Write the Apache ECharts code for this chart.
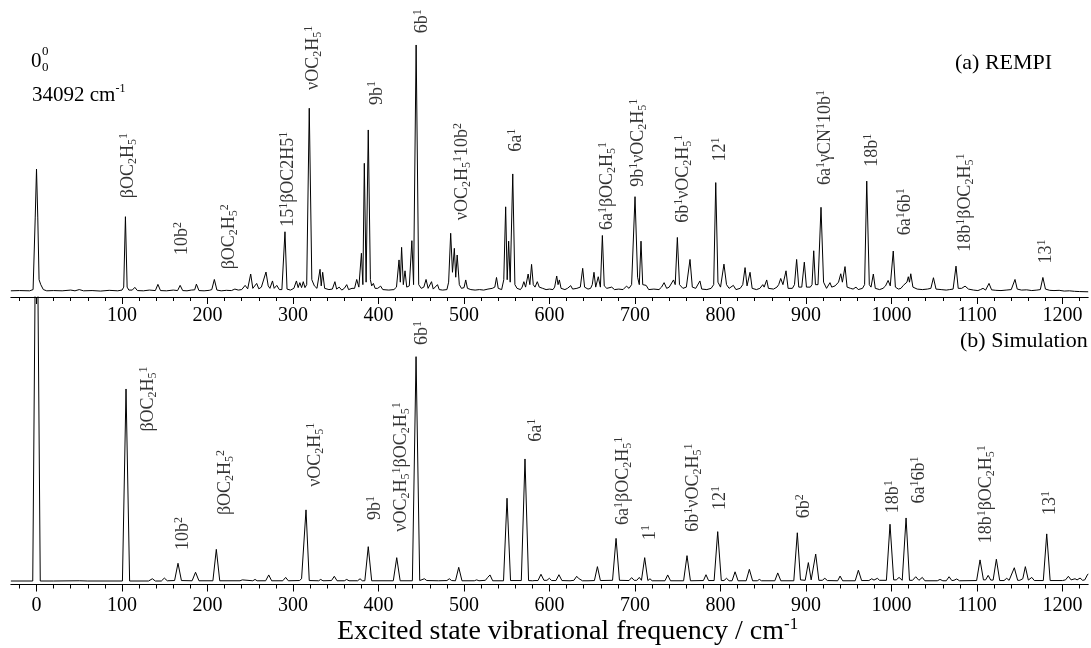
<!DOCTYPE html>
<html>
<head>
<meta charset="utf-8">
<script src="https://cdn.jsdelivr.net/npm/echarts@6/dist/echarts.min.js"></script>
<style>
html,body{margin:0;padding:0;background:#fff;}
#chart{width:1091px;height:648px;}
</style>
</head>
<body>
<div id="chart"></div>
<script>
// ---------- DATA ----------
// x: excited state vibrational frequency (cm-1), y: relative intensity (6b peak = 100)
const rempiSpectrum = [
[-30,0.5],[-20,0.6],[-8,0.5],[-4,1],[-1.5,30],[0,49.8],[1.5,30],[3,5],[5,3],[8,1],[12,0.5],[20,0.6],[30,0.5],[40,0.8],[45,0.5],[50,1.0],[55,0.5],[65,0.6],[75,0.4],[85,0.7],[95,0.5],
[100,0.8],[102,2],[104,30.5],[106,2],[108,0.8],[112,0.8],[115,1.9],[118,0.6],[125,0.5],[132,0.8],[139,0.6],[142,3.1],[145,0.6],[152,0.5],[160,0.8],[165,0.6],[168,2.7],[171,0.6],[176,0.5],
[181,0.8],[183,1.5],[185,0.9],[187,3.2],[190,0.6],[196,0.5],[202,0.7],[205,1],[208,5.1],[211,0.8],[216,0.5],[222,0.7],[228,0.6],[232,1.2],[236,0.8],[240,1],[244,2.7],[247,1.3],[250.5,7.3],
[253,1.5],[257.5,3.5],[260,1.3],[263,2],[265,1.6],[268.4,8.1],[271,2.5],[273,1.5],[276,4.5],[278,1.5],[281,2.7],[284,1],[287,1],[290.6,24.4],[293,1.2],[297,0.8],[301,1.5],[304,4.5],[306,1.8],
[308,3.8],[310,1.8],[312,4.2],[314,1.8],[316,3],[319,74.4],[322,5],[325,2.5],[328,1.5],[331.6,9.2],[333,2.5],[334.7,8],[337,1.5],[342,1],[346,1.2],[349,4.2],[351,1.2],[354,2],[357,0.8],
[360,1.5],[362.8,3],[365,1],[369,1.5],[372,1.5],[374.5,5.1],[377,2],[380,15.7],[381.7,3],[383.4,52.1],[385.5,4],[388,65.6],[390.5,5],[392,2.5],[394,3.5],[396,1.5],[399,1.5],[402.5,2.4],
[405,1],[412,0.8],[418,1],[421,2],[424,13],[425.5,4],[427,18.1],[429,3],[431,8.6],[433,2],[436,2.5],[439,20.8],[441,3],[444,100],[447,3],[450,1.5],[453,2],[455.6,5.1],[458,1.5],[460,2],
[462,4.2],[464,1.2],[466,1.5],[469,3],[471,1],[475,0.8],[480,1],[482,4],[484.4,23.8],[486.5,8],[488.7,17.7],[490.3,6],[492,15],[494.5,3],[497,1.5],[500,1.8],[502,4.9],[504,1.5],[508,1],
[513,0.8],[518,1],[523,0.8],[528,1.2],[533,1.5],[536,2],[538,5.9],[540,1.5],[544,1],[546.5,5],[548.7,34.5],[550.5,5],[552.2,20.6],[554,4],[557,47.8],[559.5,3],[562,1.5],[566,1],[568,2],
[570,4.2],[572,2],[575,7.3],[577,3],[579,11.2],[581,3],[583,2],[585.7,4.2],[588,2],[592,1.5],[596,1],[600,1.2],[604,1],[606,2],[608.4,6.5],[610,3],[611.5,4.9],[613.5,1.5],[618,1],[621,1.5],
[624.8,2.6],[627,1.2],[632,1.5],[636,2],[638.8,9.6],[641,2],[645,1.2],[648,1.5],[650,3],[652,8],[654,2],[657,6.2],[659.5,2],[661.8,22.9],[664,2.5],[667,1.5],[672.7,2],[676,1],[681,1.2],
[686,1],[690,2.4],[693,1.5],[696,3],[700,38.6],[703,6],[705,3],[707,20.6],[709,3],[713,2.7],[716,1],[722,1.2],[728,1],[731,2],[734,3.8],[737,1.5],[740,2],[742,2.5],[745,4.9],[747,3],
[749.5,22.1],[752,3],[756,1.5],[760,2],[764.3,13.2],[767,2],[771,1.5],[775.9,4.5],[778,1.2],[784,1],[789,1.5],[792,3],[794.4,44.3],[797,4],[800,2],[804,11.3],[807,3],[810,1.5],[815,2.7],
[818,1],[823,1.5],[826,3],[828.7,9.9],[831,2.5],[834.5,8],[837,1.5],[842,1],[846,1.5],[849.4,3],[851,2],[854,4.9],[856,1.5],[862,1.2],[866,2],[868,3],[870.4,5.5],[873,3],[876.6,8.6],
[879,1.5],[884,1.5],[886.5,3],[889,13.2],[891.5,2],[895,2],[898,12.1],[900.5,2],[905,2],[907,3],[909,16.7],[911,3],[914,3],[917.5,34.3],[920.5,4],[924,1.5],[928,3.8],[930,2],[934,2.5],
[936,3],[938,4],[940.6,7.4],[942.5,4],[945.6,10.3],[948,2],[952,1.5],[955,1.2],[958.5,2],[961,1],[966,1.5],[968.5,3],[971,44.9],[974,3],[976,2],[978.7,7.3],[981,1.5],[986,1],[990,1.5],
[993,2.5],[996,4.7],[998.5,2.5],[1002,16.6],[1004.5,2],[1008,1.2],[1011,1.5],[1013.8,2.7],[1016,2],[1018,4],[1019.6,6.2],[1021,4],[1022.5,7.4],[1025,2],[1030,1.2],[1036,1],[1042,1.2],
[1046,1.5],[1049,5.8],[1052,1.2],[1058,1],[1064,0.8],[1068,1],[1072,1.2],[1075.4,10.5],[1078,1.5],[1082,1.5],[1086,2.4],[1090,1.2],[1096,0.8],[1101,0.6],[1104,1],[1107,1.5],[1110,0.8],
[1114,3.5],[1117,0.9],[1122,0.7],[1128,0.6],[1134,0.8],[1140,1],[1144.4,5.1],[1147,1.2],[1152,0.8],[1158,0.9],[1164,0.6],[1170,0.8],[1174,1],[1177,5.9],[1180,1.2],[1185,0.7],[1190,0.6],
[1196,0.7],[1202,0.4],[1208,0.5],[1214,0.3],[1220,0.2],[1230,0.1]
];

const simSpectrum = [
[-30,0],[-4.4,0],[0,210],[4.4,0],[20,0],[50,0.1],[60,0],[100.5,0],[104.7,85.6],[108.9,0],[131,0],[135.5,1],[139,0],[146,0],[149.5,1.3],[153,0.1],[161.5,0.2],[165.5,7.9],[169.5,0.2],
[182,0.1],[186,3.9],[190,0.1],[206.3,0.1],[210.3,14.1],[214.3,0.1],[238,0.1],[240.7,0.5],[243,0.1],[253,0.1],[255.6,0.7],[258,0.1],[268,0.1],[271.6,2.7],[275,0.1],[288,0.1],[291.4,1.6],
[294.5,0.1],[307.5,0.2],[310,1],[311.5,0.5],[315.2,31.7],[319,0.2],[330,0.1],[332.4,0.7],[335,0.1],[345,0.2],[348.3,2.1],[351.5,0.1],[360,0.1],[362.8,0.7],[365.5,0.1],[375.5,0.1],
[378.4,1],[381,0.1],[384,0.1],[388,15.3],[392,0.1],[417.3,0.1],[421.3,10.4],[425.3,0.1],[439.6,0.1],[443.9,100],[448.2,0.2],[450.5,0.3],[453.6,1],[456.5,0.2],[470,0.1],[480,0.2],
[482.8,1],[485.5,0.2],[490,0.1],[493.8,6.1],[497.6,0.1],[512,0.1],[514.8,0.5],[517.5,0.1],[525,0.3],[527.7,1.6],[528.7,1.2],[530.4,2.7],[533.5,0.1],[546.2,0.1],[550.3,36.9],[554.4,0.2],
[567,0.2],[571.3,54.4],[575.5,0.2],[580,0.1],[583,0.2],[586.5,0.2],[590,3],[593.5,0.3],[597,0.3],[599.8,1.2],[602.5,0.2],[607.5,0.2],[611,2.8],[614.5,0.2],[624,0.1],[628.5,0.3],
[631.8,2.1],[633.8,1.2],[635.7,1.2],[638.5,0.1],[645,0.1],[652.5,0.2],[656,6.4],[659.5,0.2],[673.7,0.3],[677.8,19],[681.8,0.3],[693,0.2],[696,1.5],[699,0.3],[702,0.3],[705,1.6],
[707.5,0.3],[711.3,10.4],[715,0.2],[717.5,1],[720,0.1],[735,0.1],[738.2,2.7],[741.5,0.1],[756.8,0.1],[760.8,11.3],[764.8,0.1],[780,0.2],[783,2.8],[786,0.2],[792.5,0.2],[796.7,22],
[800.9,0.2],[804,0.2],[807,1.2],[810,0.1],[813.5,0.1],[817,4.1],[820.5,0.1],[830,0.1],[833.7,5.2],[837.5,0.1],[843,0.1],[845.4,0.7],[848,0.1],[863.5,0.1],[866.9,3.6],[870.5,0.1],
[885.7,0.1],[889.8,21.5],[893.5,0.5],[895,0.6],[899,0.3],[902.7,8.2],[906,0.5],[907.5,0.5],[911.3,12],[915,0.3],[919,0.3],[922,1.2],[925,0.2],[937,0.1],[939.8,2.2],[942.8,0.1],
[957.5,0.1],[961.2,4.8],[965,0.2],[973.5,0.2],[976.8,1],[979.5,0.4],[983.4,1.2],[986,0.3],[994,0.3],[998.2,25.3],[1002.5,0.5],[1005.5,0.5],[1008.8,1.6],[1012.5,0.3],[1017,28.1],
[1021,0.3],[1024.5,0.3],[1028.3,1.9],[1032,0.3],[1033.5,0.3],[1036,1.6],[1039,0.1],[1053.5,0.1],[1056.7,0.7],[1060,0.1],[1064,0.1],[1067.3,1.9],[1070.5,0.2],[1073,0.3],[1076.2,0.9],
[1079.5,0.1],[1099.5,0.2],[1103.5,9.4],[1107.5,0.5],[1110,0.5],[1113,2.5],[1116,0.4],[1118.8,0.4],[1122.6,9.7],[1126.5,0.2],[1131.5,0.2],[1134.7,1.2],[1137.5,0.3],[1139.8,0.3],
[1143.6,5.9],[1147.5,0.3],[1150,0.3],[1152.3,1],[1153.5,1],[1156.5,6.4],[1160,0.4],[1161.5,0.5],[1164,1.6],[1167,0.2],[1177.5,0.2],[1181.5,21],[1185.5,0.2],[1200,0.2],[1203.5,0.5],
[1206.8,2.1],[1210,0.5],[1212,0.5],[1214.6,1],[1217,0.5],[1220.5,1.3],[1223.5,0.3],[1226,0.5],[1229,2.7],[1230,3.2]
];

// peak assignments: [text, x, y-anchor] (^ = superscript char, _ = subscript char)
const rempiLabels = [
['βOC_2H_5^1',107.5,38],['10b^2',170,15],['βOC_2H_5^2',226,9.2],['15^1βOC2H5^1',294.5,26.4],
['νOC_2H_5^1',324,81.8],['9b^1',398,75.7],['6b^1',451.7,104.7],['νOC_2H_5^110b^2',498,29.1],
['6a^1',561,56.8],['6a^1βOC_2H_5^1',667.6,25.1],['9b^1νOC_2H_5^1',703.9,42.6],['6b^1νOC_2H_5^1',756.5,28],
['12^1',800,52.8],['6a^1γCN^110b^1',922,43.3],['18b^1',977,50.7],['6a^16b^1',1015.8,23],
['18b^1βOC_2H_5^1',1086,16.3],['13^1',1181.5,11.6]
];
const simLabels = [
['βOC_2H_5^1',130.8,66.6],['10b^2',171.7,13.8],['βOC_2H_5^2',220.5,29.4],['νOC_2H_5^1',325.7,42],
['9b^1',396.7,27.2],['νOC_2H_5^1βOC_2H_5^1',427,22],['6b^1',451.7,105.2],['6a^1',584.2,62.1],
['6a^1βOC_2H_5^1',686.3,25],['1^1',718.3,18.3],['6b^1νOC_2H_5^1',768.2,22],['12^1',799.4,31.7],
['6b^2',897.7,28],['18b^1',1002,30.2],['6a^16b^1',1032.5,34.6],['18b^1βOC_2H_5^1',1111,16.8],['13^1',1186,29.4]
];

const topTickLabels = [100,200,300,400,500,600,700,800,900,1000,1100,1200];
const bottomTickLabels = [0,100,200,300,400,500,600,700,800,900,1000,1100,1200];
const majorTicks = [0,100,200,300,400,500,600,700,800,900,1000,1100,1200];
const minorTicks = [-20,0,20,40,60,80,100,120,140,160,180,200,220,240,260,280,300,320,340,360,380,400,420,440,460,480,500,520,540,560,580,600,620,640,660,680,700,720,740,760,780,800,820,840,860,880,900,920,940,960,980,1000,1020,1040,1060,1080,1100,1120,1140,1160,1180,1200,1220];

// ---------- CHART ----------
const FONT = 'Liberation Serif';
function toRich(s){
  let out='', buf='';
  for(let i=0;i<s.length;i++){
    const c=s[i];
    if(c==='^'||c==='_'){
      if(buf){out+='{n|'+buf+'}';buf='';}
      out+='{'+(c==='^'?'sp':'sb')+'|'+s[i+1]+'}'; i++;
    } else buf+=c;
  }
  if(buf) out+='{n|'+buf+'}';
  return out;
}
const labelRich = {
  n:{fontFamily:FONT,fontSize:18,lineHeight:21,color:'#000'},
  sp:{fontFamily:FONT,fontSize:12,lineHeight:12,verticalAlign:'top',color:'#000'},
  sb:{fontFamily:FONT,fontSize:12,lineHeight:12,verticalAlign:'bottom',color:'#000'}
};
function labelSeries(list, xi, yi){
  return {
    type:'scatter', xAxisIndex:xi, yAxisIndex:yi, clip:false, silent:true,
    symbol:'circle', symbolSize:1, itemStyle:{color:'rgba(0,0,0,0)'},
    data:list.map(l=>({value:[l[1],l[2]], name:l[0]})),
    label:{show:true, position:'inside', distance:0, rotate:90, align:'left', verticalAlign:'middle',
      formatter:p=>toRich(p.name), rich:labelRich},
    labelLayout:{hideOverlap:false},
    emphasis:{disabled:true},
    z:5
  };
}
const XMIN=-30, XMAX=1230;
const gridLeft=10.85, gridRight=2.8;
const numFmt = v => String(v);
const axisCommon = {type:'value', min:XMIN, max:XMAX, splitLine:{show:false}};
const chart = echarts.init(document.getElementById('chart'), null, {renderer:'canvas'});
const option = {
  animation:false,
  backgroundColor:'#fff',
  textStyle:{fontFamily:FONT},
  grid:[
    {left:gridLeft,right:gridRight,top:0,height:297},
    {left:gridLeft,right:gridRight,top:297,height:287.5},
    {left:gridLeft,right:gridRight,top:0,height:297},
    {left:gridLeft,right:gridRight,top:297,height:287.5}
  ],
  xAxis:[
    Object.assign({},axisCommon,{gridIndex:0,
      axisLine:{show:true,onZero:false,lineStyle:{color:'#000',width:1}},
      axisTick:{show:true,inside:false,length:7,customValues:majorTicks,lineStyle:{color:'#000'}},
      axisLabel:{show:true,customValues:topTickLabels,formatter:numFmt,margin:9,color:'#000',fontFamily:FONT,fontSize:20}}),
    Object.assign({},axisCommon,{gridIndex:1,
      axisLine:{show:true,onZero:false,lineStyle:{color:'#000',width:1}},
      axisTick:{show:true,inside:false,length:7,customValues:majorTicks,lineStyle:{color:'#000'}},
      axisLabel:{show:true,customValues:bottomTickLabels,formatter:numFmt,margin:11,color:'#000',fontFamily:FONT,fontSize:20}}),
    Object.assign({},axisCommon,{gridIndex:2,
      axisLine:{show:false,onZero:false},
      axisTick:{show:true,inside:false,length:4,customValues:minorTicks,lineStyle:{color:'#000'}},
      axisLabel:{show:false}}),
    Object.assign({},axisCommon,{gridIndex:3,
      axisLine:{show:false,onZero:false},
      axisTick:{show:true,inside:false,length:4,customValues:minorTicks,lineStyle:{color:'#000'}},
      axisLabel:{show:false}})
  ],
  yAxis:[
    {type:'value',gridIndex:0,min:-2,max:118.2,show:false},
    {type:'value',gridIndex:1,min:-1.56,max:126.6,show:false},
    {type:'value',gridIndex:2,min:0,max:1,show:false},
    {type:'value',gridIndex:3,min:0,max:1,show:false}
  ],
  series:[
    {type:'line',xAxisIndex:0,yAxisIndex:0,data:rempiSpectrum,showSymbol:false,silent:true,
      lineStyle:{color:'#000',width:1}},
    {type:'line',xAxisIndex:1,yAxisIndex:1,data:simSpectrum,showSymbol:false,silent:true,clip:true,
      lineStyle:{color:'#000',width:1}},
    labelSeries(rempiLabels,0,0),
    labelSeries(simLabels,1,1)
  ],
  graphic:[
    {type:'text',left:31,top:51,style:{text:'0',font:'21px "Liberation Serif"',fill:'#000'}},
    {type:'text',left:42,top:45,style:{text:'0',font:'13px "Liberation Serif"',fill:'#000'}},
    {type:'text',left:42,top:61,style:{text:'0',font:'13px "Liberation Serif"',fill:'#000'}},
    {type:'text',left:32,top:83,style:{text:'{n|34092 cm}{sp|-1}',rich:{
      n:{fontFamily:FONT,fontSize:21,lineHeight:25,color:'#000'},
      sp:{fontFamily:FONT,fontSize:12,lineHeight:12,verticalAlign:'top',color:'#000'}}}},
    {type:'text',left:955,top:52,style:{text:'(a) REMPI',font:'22px "Liberation Serif"',fill:'#000'}},
    {type:'text',left:960,top:330,style:{text:'(b) Simulation',font:'22px "Liberation Serif"',fill:'#000'}},
    {type:'text',left:337,top:616,style:{text:'{n|Excited state vibrational frequency / cm}{sp|-1}',rich:{
      n:{fontFamily:FONT,fontSize:28,lineHeight:31,color:'#000'},
      sp:{fontFamily:FONT,fontSize:17,lineHeight:17,verticalAlign:'top',color:'#000'}}}}
  ]
};
chart.setOption(option);
</script>
</body>
</html>
